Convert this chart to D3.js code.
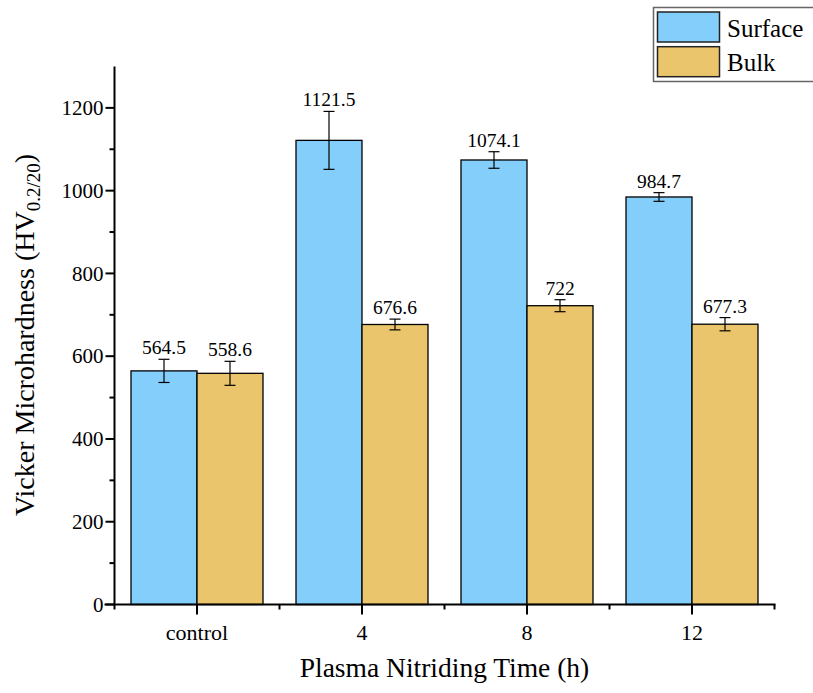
<!DOCTYPE html>
<html>
<head>
<meta charset="utf-8">
<script src="https://cdn.jsdelivr.net/npm/d3@7/dist/d3.min.js"></script>
<style>
  body { margin: 0; background: #fff; }
  svg { display: block; }
  svg text { font-family: "Liberation Serif", "Times New Roman", serif; }
</style>
</head>
<body>
<svg id="chart" width="813" height="693"></svg>
<script>
// Vickers microhardness after plasma nitriding
const categories = ["control", "4", "8", "12"];
const seriesNames = ["Surface", "Bulk"];
const surfaceValues = [564.5, 1121.5, 1074.1, 984.7];
const bulkValues = [558.6, 676.6, 722, 677.3];
const surfaceErrors = [28, 70, 20, 10.5];
const bulkErrors = [29, 13, 14.5, 16];
const yTicks = [0, 200, 400, 600, 800, 1000, 1200];
const yMinorTicks = [100, 300, 500, 700, 900, 1100];

const colors = { Surface: "#84CEFC", Bulk: "#EBC56B" };

const rows = categories.map((c, i) => ({
  category: c,
  bars: [
    { series: "Surface", value: surfaceValues[i], err: surfaceErrors[i] },
    { series: "Bulk", value: bulkValues[i], err: bulkErrors[i] }
  ]
}));

const svg = d3.select("#chart");
const plotLeft = 114.5, plotRight = 774.5, plotTop = 66.5, plotBottom = 604.5;

const x = d3.scaleBand().domain(categories).range([plotLeft, plotRight])
  .paddingInner(0.2).paddingOuter(0.1);
const xs = d3.scaleBand().domain(seriesNames).range([0, x.bandwidth()]);
const y = d3.scaleLinear().domain([0, 1300]).range([plotBottom, plotTop]);

// bars
const groups = svg.append("g").selectAll("g").data(rows).join("g")
  .attr("transform", d => `translate(${x(d.category)},0)`);

groups.selectAll("rect").data(d => d.bars).join("rect")
  .attr("x", d => xs(d.series))
  .attr("y", d => y(d.value))
  .attr("width", xs.bandwidth())
  .attr("height", d => y(0) - y(d.value))
  .attr("fill", d => colors[d.series])
  .attr("stroke", "#000")
  .attr("stroke-width", 1.3);

// error bars
const capW = 11;
const eb = groups.selectAll("g.err").data(d => d.bars).join("g").attr("class", "err")
  .attr("stroke", "#000").attr("stroke-width", 1.2);
eb.append("line")
  .attr("x1", d => xs(d.series) + xs.bandwidth() / 2)
  .attr("x2", d => xs(d.series) + xs.bandwidth() / 2)
  .attr("y1", d => y(d.value + d.err))
  .attr("y2", d => y(d.value - d.err));
eb.append("line")
  .attr("x1", d => xs(d.series) + xs.bandwidth() / 2 - capW / 2)
  .attr("x2", d => xs(d.series) + xs.bandwidth() / 2 + capW / 2)
  .attr("y1", d => y(d.value + d.err))
  .attr("y2", d => y(d.value + d.err));
eb.append("line")
  .attr("x1", d => xs(d.series) + xs.bandwidth() / 2 - capW / 2)
  .attr("x2", d => xs(d.series) + xs.bandwidth() / 2 + capW / 2)
  .attr("y1", d => y(d.value - d.err))
  .attr("y2", d => y(d.value - d.err));

// value labels
groups.selectAll("text.val").data(d => d.bars).join("text").attr("class", "val")
  .attr("x", d => xs(d.series) + xs.bandwidth() / 2)
  .attr("y", d => y(d.value + d.err) - 5)
  .attr("text-anchor", "middle")
  .attr("font-size", 19.5)
  .text(d => String(d.value));

// y axis
const yAxis = svg.append("g");
yAxis.append("line").attr("x1", plotLeft).attr("x2", plotLeft).attr("y1", plotTop).attr("y2", plotBottom + 1)
  .attr("stroke", "#000").attr("stroke-width", 2);
yAxis.selectAll("line.maj").data(yTicks).join("line").attr("class", "maj")
  .attr("x1", plotLeft - 9).attr("x2", plotLeft).attr("y1", d => y(d)).attr("y2", d => y(d))
  .attr("stroke", "#000").attr("stroke-width", 2);
yAxis.selectAll("line.min").data(yMinorTicks).join("line").attr("class", "min")
  .attr("x1", plotLeft - 5).attr("x2", plotLeft).attr("y1", d => y(d)).attr("y2", d => y(d))
  .attr("stroke", "#000").attr("stroke-width", 2);
yAxis.selectAll("text").data(yTicks).join("text")
  .attr("x", plotLeft - 11).attr("y", d => y(d)).attr("dy", "0.34em")
  .attr("text-anchor", "end").attr("font-size", 21)
  .text(d => d);

// x axis
const xAxis = svg.append("g");
xAxis.append("line").attr("x1", plotLeft - 10).attr("x2", plotRight + 1).attr("y1", plotBottom).attr("y2", plotBottom)
  .attr("stroke", "#000").attr("stroke-width", 2);
xAxis.selectAll("line.maj").data(categories).join("line").attr("class", "maj")
  .attr("x1", d => x(d) + x.bandwidth() / 2).attr("x2", d => x(d) + x.bandwidth() / 2)
  .attr("y1", plotBottom).attr("y2", plotBottom + 10)
  .attr("stroke", "#000").attr("stroke-width", 2);
const boundaries = d3.range(categories.length + 1).map(i => plotLeft + i * x.step());
xAxis.selectAll("line.min").data(boundaries).join("line").attr("class", "min")
  .attr("x1", d => d).attr("x2", d => d)
  .attr("y1", plotBottom).attr("y2", plotBottom + 5)
  .attr("stroke", "#000").attr("stroke-width", 2);
xAxis.selectAll("text").data(categories).join("text")
  .attr("x", d => x(d) + x.bandwidth() / 2).attr("y", 640)
  .attr("text-anchor", "middle").attr("font-size", 22)
  .text(d => d);

// axis titles
svg.append("text")
  .attr("x", (plotLeft + plotRight) / 2).attr("y", 677)
  .attr("text-anchor", "middle").attr("font-size", 27.5)
  .text("Plasma Nitriding Time (h)");

const yTitle = svg.append("text")
  .attr("transform", "translate(34,335) rotate(-90)")
  .attr("text-anchor", "middle").attr("font-size", 28);
yTitle.append("tspan").text("Vicker Microhardness (HV");
yTitle.append("tspan").attr("font-size", 19).attr("dy", 6).text("0.2/20");
yTitle.append("tspan").attr("dy", -6).text(")");

// legend
const legend = svg.append("g");
legend.append("rect").attr("x", 653.5).attr("y", 7.5).attr("width", 200).attr("height", 74)
  .attr("fill", "#fff").attr("stroke", "#666").attr("stroke-width", 1.5);
const li = legend.selectAll("g.item").data(seriesNames).join("g").attr("class", "item")
  .attr("transform", (d, i) => `translate(0,${i * 34.7})`);
li.append("rect").attr("x", 657.5).attr("y", 12).attr("width", 62).attr("height", 30)
  .attr("fill", d => colors[d]).attr("stroke", "#222").attr("stroke-width", 1.5);
li.append("text").attr("x", 727).attr("y", 36.5).attr("font-size", 25).text(d => d);
</script>
</body>
</html>
